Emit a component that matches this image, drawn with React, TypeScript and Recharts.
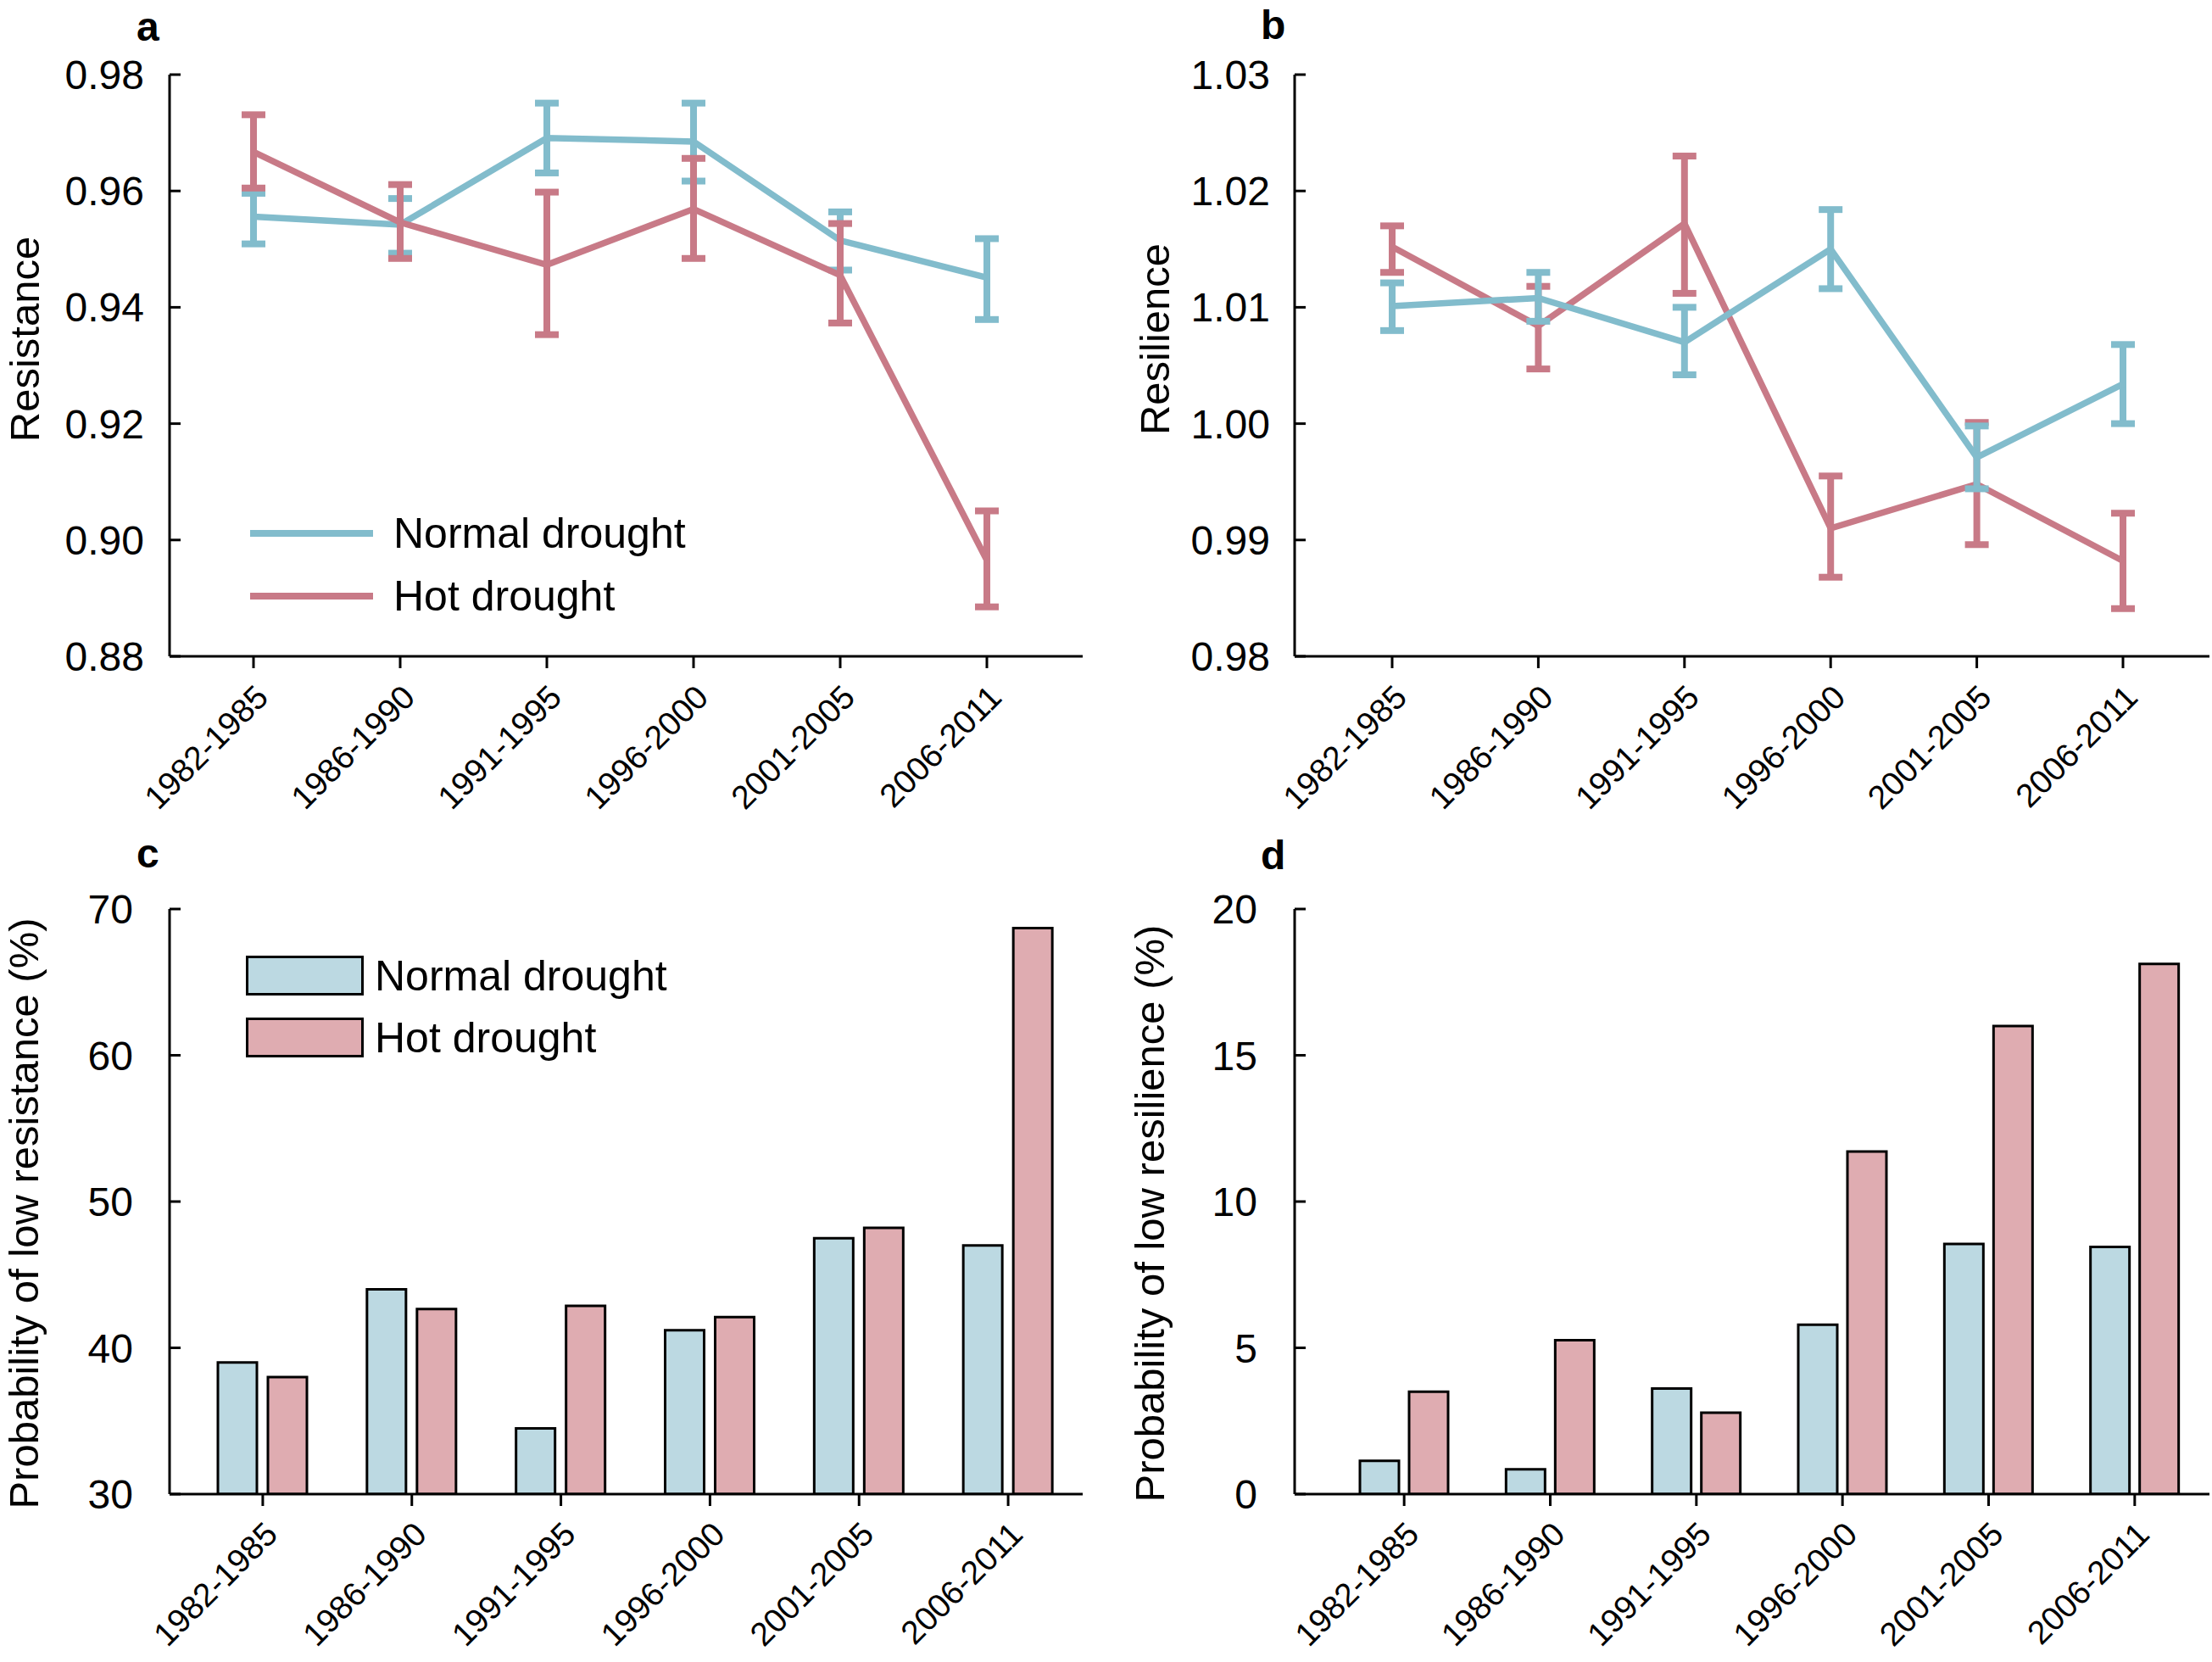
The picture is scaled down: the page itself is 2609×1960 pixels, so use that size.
import React from 'react';
import { LineChart, Line, BarChart, Bar, XAxis, YAxis, ErrorBar, Legend } from 'recharts';

const FONT = '"Liberation Sans", Arial, Helvetica, sans-serif';
const BLUE_LINE = '#82bccc';
const RED_LINE = '#c87a87';
const BLUE_BAR = '#bcd9e2';
const RED_BAR = '#dfacb1';

// ---- data ----
const periods = ['1982-1985', '1986-1990', '1991-1995', '1996-2000', '2001-2005', '2006-2011'];

// Panel a: resistance (mean, lower and upper end of error bar)
const resistNormalMean = [0.9556, 0.9542, 0.9691, 0.9685, 0.9515, 0.9451];
const resistNormalLow = [0.9509, 0.9493, 0.9631, 0.9617, 0.9464, 0.9379];
const resistNormalHigh = [0.9596, 0.9587, 0.9751, 0.9751, 0.9564, 0.9518];
const resistHotMean = [0.9667, 0.9546, 0.9473, 0.9569, 0.9455, 0.8965];
const resistHotLow = [0.9605, 0.9484, 0.9353, 0.9484, 0.9373, 0.8885];
const resistHotHigh = [0.9731, 0.9611, 0.9598, 0.9656, 0.9544, 0.905];

// Panel b: resilience
const resilNormalMean = [1.0101, 1.0108, 1.007, 1.015, 0.9971, 1.0034];
const resilNormalLow = [1.008, 1.0088, 1.0042, 1.0116, 0.9944, 1.0];
const resilNormalHigh = [1.0121, 1.013, 1.01, 1.0184, 0.9998, 1.0068];
const resilHotMean = [1.0152, 1.0084, 1.0172, 0.991, 0.9948, 0.9882];
const resilHotLow = [1.013, 1.0047, 1.0112, 0.9868, 0.9896, 0.9841];
const resilHotHigh = [1.017, 1.0118, 1.023, 0.9955, 1.0001, 0.9923];

// Panel c: probability of low resistance (%)
const lowResistNormal = [39.0, 44.0, 34.5, 41.2, 47.5, 47.0];
const lowResistHot = [38.0, 42.65, 42.87, 42.1, 48.2, 68.7];

// Panel d: probability of low resilience (%)
const lowResilNormal = [1.14, 0.85, 3.61, 5.79, 8.55, 8.45];
const lowResilHot = [3.5, 5.26, 2.78, 11.71, 16.0, 18.12];

const ticksA = [0.88, 0.9, 0.92, 0.94, 0.96, 0.98];
const ticksB = [0.98, 0.99, 1.0, 1.01, 1.02, 1.03];
const ticksC = [30, 40, 50, 60, 70];
const ticksD = [0, 5, 10, 15, 20];

const seriesNames = ['Normal drought', 'Hot drought'];

// ---- tables built from arrays ----
const buildLine = (nm: number[], nl: number[], nh: number[], hm: number[], hl: number[], hh: number[]) =>
  periods.map((p, i) => ({
    period: p,
    normal: nm[i],
    normalErr: [nm[i] - nl[i], nh[i] - nm[i]],
    hot: hm[i],
    hotErr: [hm[i] - hl[i], hh[i] - hm[i]],
  }));

const buildBar = (n: number[], h: number[]) => periods.map((p, i) => ({ period: p, normal: n[i], hot: h[i] }));

const dataA = buildLine(resistNormalMean, resistNormalLow, resistNormalHigh, resistHotMean, resistHotLow, resistHotHigh);
const dataB = buildLine(resilNormalMean, resilNormalLow, resilNormalHigh, resilHotMean, resilHotLow, resilHotHigh);
const dataC = buildBar(lowResistNormal, lowResistHot);
const dataD = buildBar(lowResilNormal, lowResilHot);

// ---- helpers ----
const XTick = (props: any) => {
  const { x, y, payload } = props;
  return (
    <text
      x={x}
      y={y}
      dy="0.71em"
      textAnchor="end"
      transform={`rotate(-45, ${x}, ${y})`}
      fontSize={39}
      fontFamily={FONT}
      fill="#000"
    >
      {payload.value}
    </text>
  );
};

// Y tick: label left of the axis, tick mark pointing inward (into the plot)
const makeYTick = (gap: number, digits: number) => (props: any) => {
  const { x, y, payload } = props;
  const axisX = x + gap;
  const v = Number(payload.value);
  return (
    <g>
      <line x1={axisX} x2={axisX + 13} y1={y} y2={y} stroke="#000" strokeWidth={3} />
      <text x={x} y={y} dy="0.355em" textAnchor="end" fontSize={48} fontFamily={FONT} fill="#000">
        {v.toFixed(digits)}
      </text>
    </g>
  );
};

const yTitle = (text: string, bx: number, dy: number) => (props: any) => {
  const vb = props.viewBox || {};
  const x = (vb.x ?? 0) + bx;
  const y = (vb.y ?? 0) + (vb.height ?? 0) / 2 + dy;
  return (
    <text
      x={x}
      y={y}
      textAnchor="middle"
      transform={`rotate(-90, ${x}, ${y})`}
      fontSize={49}
      fontFamily={FONT}
      fill="#000"
    >
      {text}
    </text>
  );
};

const axisLine = { stroke: '#000', strokeWidth: 3 };
const tickLine = { stroke: '#000', strokeWidth: 3 };

const LineLegend = () => (
  <div style={{ display: 'flex', flexDirection: 'column' }}>
    {seriesNames.map((n, i) => (
      <div key={n} style={{ display: 'flex', alignItems: 'center', height: 74 }}>
        <div style={{ width: 145, height: 8, background: i === 0 ? BLUE_LINE : RED_LINE }} />
        <span style={{ marginLeft: 24, fontSize: 50, fontFamily: FONT, color: '#000', lineHeight: 1 }}>{n}</span>
      </div>
    ))}
  </div>
);

const BarLegend = () => (
  <div style={{ display: 'flex', flexDirection: 'column' }}>
    {seriesNames.map((n, i) => (
      <div key={n} style={{ display: 'flex', alignItems: 'center', height: 73 }}>
        <div
          style={{
            width: 133,
            height: 41,
            background: i === 0 ? BLUE_BAR : RED_BAR,
            border: '3px solid #000',
          }}
        />
        <span style={{ marginLeft: 13, fontSize: 50, fontFamily: FONT, color: '#000', lineHeight: 1 }}>{n}</span>
      </div>
    ))}
  </div>
);

const frameAxes = (domain: number[]) => [
  <XAxis
    key="topx"
    xAxisId="top"
    dataKey="period"
    orientation="top"
    height={0}
    tick={false}
    tickLine={false}
    axisLine={axisLine}
  />,
  <YAxis
    key="righty"
    yAxisId="right"
    orientation="right"
    width={0}
    type="number"
    domain={domain}
    tick={false}
    tickLine={false}
    axisLine={axisLine}
  />,
];

const letterStyle = (left: number, top: number): React.CSSProperties => ({
  position: 'absolute',
  left,
  top,
  fontFamily: FONT,
  fontWeight: 'bold',
  fontSize: 48,
  lineHeight: 1,
  color: '#000',
});

export default function App() {
  return (
    <div style={{ position: 'absolute', left: 0, top: 0, width: 2609, height: 1960, background: '#fff' }}>
      {/* Panel a */}
      <div style={{ position: 'absolute', left: 0, top: 0 }}>
        <LineChart width={1300} height={975} data={dataA} margin={{ top: 88, right: 23, bottom: 0, left: 0 }}>
          <XAxis
            dataKey="period"
            height={201}
            padding={{ left: 99, right: 113 }}
            axisLine={axisLine}
            tickLine={tickLine}
            tickSize={14}
            tickMargin={17}
            tick={<XTick />}
            interval={0}
          />
          <YAxis
            type="number"
            domain={[0.88, 0.98]}
            ticks={ticksA}
            width={200}
            axisLine={axisLine}
            tickLine={false}
            tickSize={0}
            tickMargin={30}
            tick={makeYTick(30, 2)}
            allowDataOverflow
            label={yTitle('Resistance', 46, -31)}
          />
          {frameAxes([0.88, 0.98])}
          <Line
            dataKey="normal"
            name="Normal drought"
            stroke={BLUE_LINE}
            strokeWidth={7.5}
            dot={false}
            activeDot={false}
            isAnimationActive={false}
          >
            <ErrorBar dataKey="normalErr" direction="y" width={14} stroke={BLUE_LINE} strokeWidth={8} isAnimationActive={false} />
          </Line>
          <Line
            dataKey="hot"
            name="Hot drought"
            stroke={RED_LINE}
            strokeWidth={7.5}
            dot={false}
            activeDot={false}
            isAnimationActive={false}
          >
            <ErrorBar dataKey="hotErr" direction="y" width={14} stroke={RED_LINE} strokeWidth={8} isAnimationActive={false} />
          </Line>
          <Legend
            layout="vertical"
            align="center"
            verticalAlign="middle"
            content={<LineLegend />}
            wrapperStyle={{ left: 295, top: 592, width: 'auto', height: 'auto' }}
          />
        </LineChart>
        <div style={letterStyle(161, 8)}>a</div>
      </div>

      {/* Panel b */}
      <div style={{ position: 'absolute', left: 1300, top: 0 }}>
        <LineChart width={1309} height={975} data={dataB} margin={{ top: 88, right: 3, bottom: 0, left: 0 }}>
          <XAxis
            dataKey="period"
            height={201}
            padding={{ left: 115, right: 102 }}
            axisLine={axisLine}
            tickLine={tickLine}
            tickSize={14}
            tickMargin={17}
            tick={<XTick />}
            interval={0}
          />
          <YAxis
            type="number"
            domain={[0.98, 1.03]}
            ticks={ticksB}
            width={227}
            axisLine={axisLine}
            tickLine={false}
            tickSize={0}
            tickMargin={29}
            tick={makeYTick(29, 2)}
            allowDataOverflow
            label={yTitle('Resilience', 79, -31)}
          />
          {frameAxes([0.98, 1.03])}
          <Line
            dataKey="hot"
            name="Hot drought"
            stroke={RED_LINE}
            strokeWidth={7.5}
            dot={false}
            activeDot={false}
            isAnimationActive={false}
          >
            <ErrorBar dataKey="hotErr" direction="y" width={14} stroke={RED_LINE} strokeWidth={8} isAnimationActive={false} />
          </Line>
          <Line
            dataKey="normal"
            name="Normal drought"
            stroke={BLUE_LINE}
            strokeWidth={7.5}
            dot={false}
            activeDot={false}
            isAnimationActive={false}
          >
            <ErrorBar dataKey="normalErr" direction="y" width={14} stroke={BLUE_LINE} strokeWidth={8} isAnimationActive={false} />
          </Line>
        </LineChart>
        <div style={letterStyle(187, 6)}>b</div>
      </div>

      {/* Panel c */}
      <div style={{ position: 'absolute', left: 0, top: 975 }}>
        <BarChart
          width={1300}
          height={985}
          data={dataC}
          margin={{ top: 97, right: 23, bottom: 0, left: 0 }}
          barSize={46}
          barGap={13}
        >
          <XAxis
            dataKey="period"
            height={198}
            padding={{ left: 22, right: 0 }}
            axisLine={axisLine}
            tickLine={tickLine}
            tickSize={14}
            tickMargin={16}
            tick={<XTick />}
            interval={0}
          />
          <YAxis
            type="number"
            domain={[30, 70]}
            ticks={ticksC}
            width={200}
            axisLine={axisLine}
            tickLine={false}
            tickSize={0}
            tickMargin={43}
            tick={makeYTick(43, 0)}
            allowDataOverflow
            label={yTitle('Probability of low resistance (%)', 45, 14)}
          />
          {frameAxes([30, 70])}
          <Bar dataKey="normal" name="Normal drought" fill={BLUE_BAR} stroke="#000" strokeWidth={3} isAnimationActive={false} />
          <Bar dataKey="hot" name="Hot drought" fill={RED_BAR} stroke="#000" strokeWidth={3} isAnimationActive={false} />
          <Legend
            layout="vertical"
            align="center"
            verticalAlign="middle"
            content={<BarLegend />}
            wrapperStyle={{ left: 290, top: 139, width: 'auto', height: 'auto' }}
          />
        </BarChart>
        <div style={letterStyle(161, 8)}>c</div>
      </div>

      {/* Panel d */}
      <div style={{ position: 'absolute', left: 1300, top: 975 }}>
        <BarChart
          width={1309}
          height={985}
          data={dataD}
          margin={{ top: 97, right: 3, bottom: 0, left: 0 }}
          barSize={46}
          barGap={12}
        >
          <XAxis
            dataKey="period"
            height={198}
            padding={{ left: 43, right: 2 }}
            axisLine={axisLine}
            tickLine={tickLine}
            tickSize={14}
            tickMargin={16}
            tick={<XTick />}
            interval={0}
          />
          <YAxis
            type="number"
            domain={[0, 20]}
            ticks={ticksD}
            width={227}
            axisLine={axisLine}
            tickLine={false}
            tickSize={0}
            tickMargin={44}
            tick={makeYTick(44, 0)}
            allowDataOverflow
            label={yTitle('Probability of low resilience (%)', 73, 14)}
          />
          {frameAxes([0, 20])}
          <Bar dataKey="normal" name="Normal drought" fill={BLUE_BAR} stroke="#000" strokeWidth={3} isAnimationActive={false} />
          <Bar dataKey="hot" name="Hot drought" fill={RED_BAR} stroke="#000" strokeWidth={3} isAnimationActive={false} />
        </BarChart>
        <div style={letterStyle(187, 10)}>d</div>
      </div>
    </div>
  );
}
